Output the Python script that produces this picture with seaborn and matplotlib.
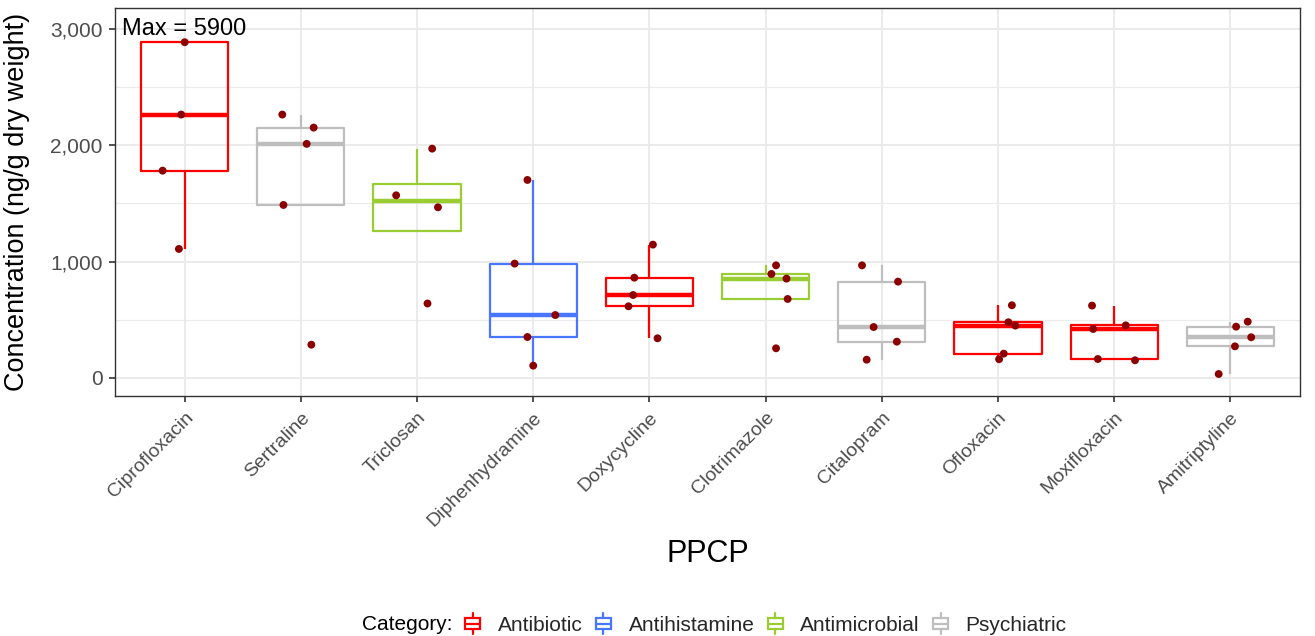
import numpy as np
import pandas as pd
import matplotlib
matplotlib.use("Agg")
import matplotlib.pyplot as plt
import seaborn as sns
from matplotlib.legend_handler import HandlerBase
from matplotlib.patches import Rectangle, Patch
from matplotlib.lines import Line2D

# ---------------- data ----------------
ppcp = ["Ciprofloxacin", "Sertraline", "Triclosan", "Diphenhydramine", "Doxycycline",
        "Clotrimazole", "Citalopram", "Ofloxacin", "Moxifloxacin", "Amitriptyline"]
ppcp_category = ["Antibiotic", "Psychiatric", "Antimicrobial", "Antihistamine", "Antibiotic",
                 "Antimicrobial", "Psychiatric", "Antibiotic", "Antibiotic", "Psychiatric"]
categories = ["Antibiotic", "Antihistamine", "Antimicrobial", "Psychiatric"]

ciprofloxacin = [5900, 2886, 2264, 1782, 1109]
sertraline = [2264, 2152, 2012, 1487, 286]
triclosan = [1971, 1570, 1467, 640]
diphenhydramine = [1702, 983, 541, 352, 106]
doxycycline = [1146, 862, 713, 616, 341]
clotrimazole = [968, 894, 854, 679, 255]
citalopram = [968, 828, 438, 312, 157]
ofloxacin = [625, 479, 450, 209, 161]
moxifloxacin = [622, 421, 452, 163, 152]
amitriptyline = [484, 441, 350, 272, 34]

# horizontal jitter of each point (fraction of category spacing)
jit_ciprofloxacin = [0.0, 0.0, -0.03, -0.19, -0.05]
jit_sertraline = [-0.16, 0.11, 0.05, -0.15, 0.09]
jit_triclosan = [0.13, -0.18, 0.18, 0.09]
jit_diphenhydramine = [-0.05, -0.16, 0.19, -0.05, 0.0]
jit_doxycycline = [0.03, -0.13, -0.14, -0.18, 0.07]
jit_clotrimazole = [0.09, 0.05, 0.18, 0.19, 0.09]
jit_citalopram = [-0.17, 0.14, -0.07, 0.13, -0.13]
jit_ofloxacin = [0.12, 0.09, 0.15, 0.05, 0.01]
jit_moxifloxacin = [-0.19, -0.18, 0.10, -0.14, 0.18]
jit_amitriptyline = [0.15, 0.05, 0.18, 0.04, -0.10]

max_label = "Max = 5900"

values = [ciprofloxacin, sertraline, triclosan, diphenhydramine, doxycycline,
          clotrimazole, citalopram, ofloxacin, moxifloxacin, amitriptyline]
jitters = [jit_ciprofloxacin, jit_sertraline, jit_triclosan, jit_diphenhydramine, jit_doxycycline,
           jit_clotrimazole, jit_citalopram, jit_ofloxacin, jit_moxifloxacin, jit_amitriptyline]

rows = []
for i, (name, cat, vals, jit) in enumerate(zip(ppcp, ppcp_category, values, jitters)):
    for v, j in zip(vals, jit):
        rows.append(dict(PPCP=name, Category=cat, value=v, pos=i + j))
df = pd.DataFrame(rows)

palette = {"Antibiotic": "#FF0000", "Antihistamine": "#4876FF",
           "Antimicrobial": "#9ACD32", "Psychiatric": "#BEBEBE"}

# ---------------- style ----------------
sns.set_theme(style="white")
plt.rcParams["font.family"] = ["Liberation Sans", "DejaVu Sans"]

fig = plt.figure(figsize=(13.15, 6.36), dpi=100)
ax = fig.add_axes([115 / 1315, 1 - 396 / 636, 1185 / 1315, 388 / 636])

sns.boxplot(data=df, x="PPCP", y="value", hue="Category", order=ppcp, hue_order=categories,
            palette=palette, dodge=False, fill=False, width=0.75, showfliers=False,
            showcaps=False, linewidth=1.6, medianprops=dict(linewidth=3.2),
            legend=False, ax=ax, zorder=2)

sns.scatterplot(x=df["pos"], y=df["value"], color="#8B0000", s=32, edgecolor="none",
                legend=False, ax=ax, zorder=3)

ax.set_xlim(-0.6, len(ppcp) - 0.4)
ax.set_ylim(-155, 3180)
ax.set_yticks([0, 1000, 2000, 3000])
ax.set_yticklabels(["0", "1,000", "2,000", "3,000"])
ax.set_yticks([500, 1500, 2500], minor=True)
ax.set_xticks(range(len(ppcp)))
ax.set_xticklabels(ppcp, rotation=45, ha="right", va="top", rotation_mode="anchor")

ax.grid(True, which="major", color="#EBEBEB", linewidth=1.4)
ax.grid(True, which="minor", axis="y", color="#EBEBEB", linewidth=0.8)
ax.set_axisbelow(True)
for s in ax.spines.values():
    s.set_color("#333333")
    s.set_linewidth(1.0)
ax.tick_params(axis="both", which="major", length=4.5, width=1.2, color="#333333",
               labelcolor="#4D4D4D", bottom=True, left=True)
ax.tick_params(axis="y", which="major", labelsize=15, pad=4.5)
ax.tick_params(axis="x", which="major", labelsize=14, pad=5)
ax.tick_params(which="minor", length=0)

ax.set_ylabel("Concentration (ng/g dry weight)", fontsize=19.5, color="black")
ax.yaxis.set_label_coords(-0.072, 0.5)
ax.set_xlabel("PPCP", fontsize=22, color="black")
ax.xaxis.set_label_coords(0.5, -0.407)
ax.xaxis.label.set_va("center")

ax.text(-0.54, 3000, max_label, fontsize=17, color="black", ha="left", va="center", zorder=4)

# ---------------- legend ----------------
class BoxKey(HandlerBase):
    def create_artists(self, legend, orig_handle, xdescent, ydescent, width, height, fontsize, trans):
        c = orig_handle.get_edgecolor()
        x0, y0 = -xdescent, -ydescent
        arts = [
            Rectangle((x0 + 0.1 * width, y0 + 0.22 * height), 0.8 * width, 0.56 * height,
                      fill=False, edgecolor=c, linewidth=1.6),
            Line2D([x0 + 0.1 * width, x0 + 0.9 * width], [y0 + 0.5 * height] * 2, color=c, lw=1.6),
            Line2D([x0 + 0.5 * width] * 2, [y0 - 0.02 * height, y0 + 0.22 * height], color=c, lw=1.6),
            Line2D([x0 + 0.5 * width] * 2, [y0 + 0.78 * height, y0 + 1.02 * height], color=c, lw=1.6),
        ]
        for a in arts:
            a.set_transform(trans)
        return arts

handles = [Patch(facecolor="none", edgecolor=palette[c]) for c in categories]
fig.text(362 / 1315, 1 - 624 / 636, "Category:", fontsize=15, ha="left", va="center", color="black")
fig.legend(handles, categories, handler_map={Patch: BoxKey()}, loc="center",
           bbox_to_anchor=(765 / 1315, 1 - 624 / 636), ncol=4, frameon=False, fontsize=15,
           handlelength=0.9, handleheight=1.15, handletextpad=0.75, columnspacing=0.55,
           borderpad=0, borderaxespad=0)

fig.savefig("out.png", dpi=100)
